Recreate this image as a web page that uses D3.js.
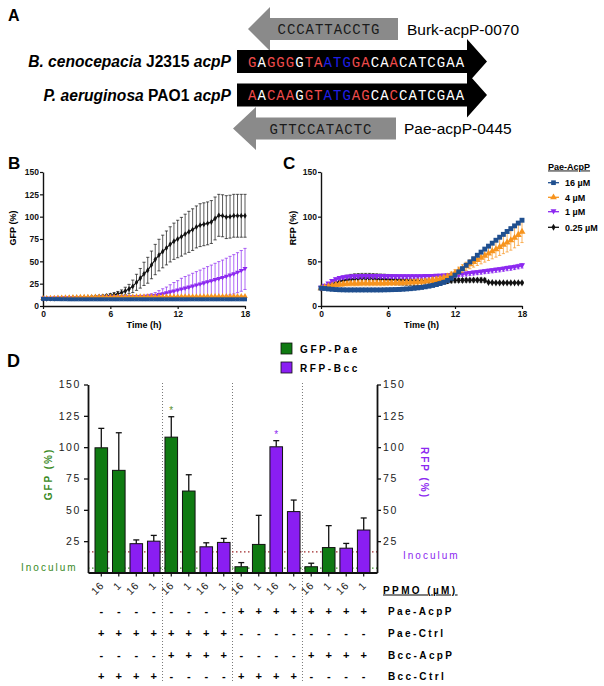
<!DOCTYPE html>
<html><head><meta charset="utf-8">
<script src="https://cdn.jsdelivr.net/npm/d3@7"></script>
<style>
body{margin:0;background:#fff}
svg{display:block;font-family:"Liberation Sans",Arial,sans-serif}
</style>
</head><body>
<svg id="c" width="604" height="686"></svg>
<script>
// ---------------- DATA ----------------
// Panel A
const seqBcc = "GAGGGGTAATGGACAACATCGAA";
const seqPae = "AACAAGGTATGAGCACCATCGAA";
const ppmoBurk = "CCCATTACCTG";
const ppmoPae = "GTTCCATACTC";
const ppmoBurkName = "Burk-acpP-0070";
const ppmoPaeName = "Pae-acpP-0445";

// Panels B & C : time course, 20-min readings 0..18 h
const sampleMinutes = 20;
const nSamples = 55;
const concLabels = ["16 µM", "4 µM", "1 µM", "0.25 µM"];

const bBlue = [8.0,7.9,7.8, 7.7,7.7,7.6, 7.6,7.5,7.5, 7.5,7.5,7.5, 7.5,7.5,7.5, 7.5,7.5,7.5, 7.5,7.5,7.5, 7.5,7.5,7.5,
  7.5,7.5,7.5, 7.5,7.5,7.5, 7.5,7.5,7.5, 7.5,7.5,7.5, 7.5,7.5,7.5, 7.5,7.5,7.5, 7.5,7.5,7.5, 7.5,7.5,7.5, 7.5,7.5,7.5, 7.5,7.5,7.5, 7.5];
const bBlueErr = [0.3,0.3,0.3, 0.3,0.3,0.3, 0.3,0.3,0.3, 0.3,0.3,0.3, 0.3,0.3,0.3, 0.3,0.3,0.3, 0.3,0.3,0.3, 0.3,0.3,0.3,
  0.3,0.3,0.3, 0.3,0.3,0.3, 0.3,0.3,0.3, 0.3,0.3,0.3, 0.3,0.3,0.3, 0.3,0.3,0.3, 0.3,0.3,0.3, 0.3,0.3,0.3, 0.3,0.3,0.3, 0.3,0.3,0.3, 0.3];
const bOrange = [8.6,8.7,8.9, 9.0,9.1,9.3, 9.4,9.5,9.7, 9.8,9.9,10.0, 10.1,10.1,10.2, 10.2,10.2,10.3, 10.3,10.3,10.3, 10.4,10.4,10.4,
  10.4,10.5,10.5, 10.5,10.5,10.5, 10.5,10.6,10.6, 10.6,10.6,10.6, 10.6,10.7,10.7, 10.7,10.7,10.7, 10.7,10.7,10.8, 10.8,10.8,10.8, 10.8,10.8,10.8, 10.9,10.9,10.9, 10.9];
const bOrangeErr = [0.4,0.4,0.4, 0.4,0.4,0.4, 0.4,0.4,0.4, 0.4,0.4,0.4, 0.4,0.4,0.4, 0.4,0.4,0.4, 0.4,0.4,0.4, 0.4,0.4,0.4,
  0.4,0.4,0.4, 0.4,0.4,0.4, 0.4,0.4,0.4, 0.4,0.4,0.4, 0.4,0.4,0.4, 0.4,0.4,0.4, 0.4,0.4,0.4, 0.4,0.4,0.4, 0.4,0.4,0.4, 0.4,0.4,0.4, 0.4];
const bPurple = [8.0,8.1,8.2, 8.4,8.4,8.5, 8.6,8.6,8.7, 8.8,8.8,8.9, 9.0,9.0,9.1, 9.2,9.2,9.3, 9.4,9.4,9.5, 9.6,9.6,9.7,
  9.8,9.9,10.1, 10.2,10.5,10.8, 11.2,12.2,13.2, 14.2,15.3,16.3, 17.4,18.5,19.5, 20.6,21.8,23.0, 24.2,25.4,26.6,
  27.8,29.0,30.2, 31.4,32.7,34.1, 35.5,37.3,39.3, 41.5];
const bPurpleErr = [0.5,0.5,0.5, 0.5,0.5,0.5, 0.5,0.5,0.6, 0.6,0.6,0.7, 0.7,0.7,0.8, 0.8,0.9,0.9, 1.0,1.0,1.1, 1.1,1.2,1.3,
  1.4,1.5,1.8, 2.0,2.5,3.0, 3.8,5.0,6.1, 7.0,8.5,10.0, 11.0,12.5,13.5, 14.0,14.8,15.5, 16.0,16.8,17.5,
  18.0,18.8,19.5, 20.0,20.8,21.5, 22.0,22.4,22.8, 23.0];
const bBlack = [8.0,8.1,8.3, 8.4,8.5,8.7, 8.8,8.9,9.1, 9.2,9.3,9.5, 9.6,9.9,10.1, 10.4,10.8,11.3, 11.8,12.6,13.6, 14.8,16.8,19.0,
  22.0,26.5,31.0, 36.0,40.0,46.0, 52.0,57.0,61.0, 65.0,69.0,72.5, 75.0,77.5,80.5, 83.0,85.5,88.5, 90.5,91.5,92.5,
  94.0,98.0,101.5, 101.0,99.5,100.0, 101.0,101.0,101.0, 101.0];
const bBlackErr = [0.5,0.5,0.5, 0.6,0.6,0.7, 0.7,0.8,0.8, 0.9,0.9,1.0, 1.0,1.1,1.3, 1.4,1.5,1.7, 2.0,2.3,2.7, 3.2,4.2,5.2,
  7.0,9.0,11.0, 13.0,14.5,15.5, 17.0,17.7,18.3, 19.0,19.7,20.3, 21.0,21.7,22.3, 23.0,23.3,23.5, 24.0,24.0,24.0,
  24.0,24.0,23.5, 23.5,24.0,24.0, 24.0,24.0,24.0, 24.0];

const cBlue = [20.0,19.6,19.1, 18.7,18.4,18.2, 18.1,18.0,18.0, 18.0,18.0,18.0, 18.0,18.0,18.0, 18.0,18.0,18.1, 18.2,18.3,18.4, 18.5,18.8,19.1,
  19.4,19.8,20.3, 20.8,21.5,22.2, 23.0,24.0,25.1, 26.5,28.6,31.2, 34.5,38.2,41.8, 45.6,49.3,52.9, 56.8,60.3,63.7,
  67.0,70.3,73.6, 77.0,80.2,83.4, 86.6,89.7,92.8, 96.0];
const cBlueErr = [0.6,0.6,0.6, 0.6,0.6,0.6, 0.6,0.6,0.6, 0.6,0.6,0.6, 0.6,0.6,0.6, 0.6,0.6,0.6, 0.6,0.6,0.6, 0.6,0.6,0.6,
  0.6,0.6,0.6, 0.6,0.6,0.6, 0.7,0.7,0.7, 0.8,0.8,0.8, 0.9,0.9,1.0, 1.0,1.0,1.1, 1.1,1.2,1.2, 1.2,1.3,1.3, 1.3,1.4,1.4, 1.4,1.5,1.5, 1.5];
const cOrange = [20.0,21.1,22.2, 23.0,23.7,24.2, 24.6,24.9,25.1, 25.2,25.3,25.4, 25.4,25.4,25.5, 25.5,25.5,25.6, 25.7,25.7,25.9, 26.0,26.1,26.3,
  26.6,26.9,27.1, 27.2,27.7,28.3, 29.0,29.7,30.4, 31.5,33.0,34.9, 37.2,39.6,42.0, 44.4,46.8,49.2, 51.6,54.0,56.4,
  58.8,61.2,63.6, 66.0,68.5,71.0, 73.5,76.5,79.6, 83.0];
const cOrangeErr = [0.5,0.9,1.2, 1.5,1.9,2.2, 2.5,2.5,2.6, 2.7,2.7,2.8, 2.8,2.8,2.8, 2.8,2.8,2.8, 2.8,2.8,2.8, 2.8,2.8,2.8,
  2.8,2.8,2.8, 2.8,2.8,2.8, 2.8,2.8,2.8, 3.0,3.0,3.1, 3.5,3.9,4.3, 4.6,5.1,5.7, 6.2,6.8,7.3,
  7.8,8.4,8.9, 9.4,9.9,10.5, 11.0,11.4,11.8, 12.0];
const cPurple = [20.0,22.2,24.8, 27.5,29.5,30.9, 31.8,32.3,32.6, 32.8,32.9,33.0, 33.0,33.0,33.0, 33.0,33.0,32.9, 32.9,32.8,32.8, 32.8,32.8,32.8,
  32.8,32.8,32.9, 32.9,33.0,33.1, 33.2,33.3,33.5, 33.6,33.9,34.2, 34.4,34.9,35.4, 35.8,36.4,36.9, 37.4,37.9,38.5,
  39.0,39.5,40.1, 40.6,41.3,42.0, 42.5,43.3,44.1, 45.0];
const cPurpleErr = [0.5,1.0,1.5, 2.0,2.0,2.0, 2.0,2.0,2.0, 2.0,2.0,2.0, 2.0,2.0,2.0, 2.0,2.0,2.0, 2.0,2.0,2.0, 2.0,2.0,2.0,
  2.0,2.0,2.0, 2.0,2.0,2.0, 2.0,2.0,2.0, 2.0,2.0,2.0, 2.1,2.1,2.1, 2.2,2.2,2.2, 2.3,2.3,2.3, 2.3,2.4,2.4, 2.4,2.4,2.5, 2.5,2.5,2.5, 2.5];
const cBlack = [20.0,21.1,22.6, 24.3,26.0,27.5, 28.6,29.5,30.0, 30.5,30.8,31.0, 31.0,31.0,30.8, 30.6,30.3,30.1, 29.8,29.5,29.3, 29.0,28.9,28.7,
  28.6,28.5,28.4, 28.4,28.4,28.4, 28.4,28.4,28.5, 28.5,28.5,28.6, 28.7,28.7,28.8, 28.9,28.9,29.0, 29.0,29.0,28.8,
  26.5,26.2,26.0, 26.0,25.9,25.9, 25.9,26.0,26.0, 26.0];
const cBlackErr = [0.5,1.2,1.8, 2.5,3.2,3.9, 4.5,5.0,5.4, 5.5,5.5,5.5, 5.5,5.5,5.5, 5.5,5.5,5.5, 5.5,5.5,5.5, 5.5,5.5,5.5,
  5.5,5.5,5.5, 5.5,5.5,5.5, 5.0,4.8,4.5, 4.0,3.3,2.6, 2.0,2.0,2.0, 2.0,2.0,2.0, 2.0,2.3,2.2,
  1.0,1.0,1.0, 1.0,1.0,1.0, 1.0,1.0,1.0, 1.0];

const bTicksY = [0,25,50,75,100,125,150];
const cTicksY = [0,50,100,150];
const timeTicks = [0,6,12,18];

// Panel D
const dPPMO = ["16","1","16","1","16","1","16","1","16","1","16","1","16","1","16","1"];
const dReporter = ["GFP","GFP","RFP","RFP","GFP","GFP","RFP","RFP","GFP","GFP","RFP","RFP","GFP","GFP","RFP","RFP"];
const dValues = [99.5,81.5,23.0,25.0,108.0,65.0,20.5,24.0,4.6,22.4,100.3,48.6,4.6,19.9,19.4,33.9];
const dErrors = [15.5,30.0,3.0,4.6,16.3,13.0,3.2,3.2,3.3,23.2,4.9,9.2,2.8,17.5,3.8,9.6];
const dStars  = ["","","","","*","","","","","","*","","","","",""];
const rowPaeAcpP = ["-","-","-","-","-","-","-","-","+","+","+","+","+","+","+","+"];
const rowPaeCtrl = ["+","+","+","+","+","+","+","+","-","-","-","-","-","-","-","-"];
const rowBccAcpP = ["-","-","-","-","+","+","+","+","-","-","-","-","+","+","+","+"];
const rowBccCtrl = ["+","+","+","+","-","-","-","-","+","+","+","+","-","-","-","-"];
const rowNames = ["Pae-AcpP","Pae-Ctrl","Bcc-AcpP","Bcc-Ctrl"];
const dTicks = [25,50,75,100,125,150];
const inoculumGFP = 3.5;
const inoculumRFP = 16.5;

// ---------------- DRAWING ----------------
const svg = d3.select("#c");
const times = d3.range(nSamples).map(i => i * sampleMinutes / 60);

const COL = {blue:"#1f4f8f", orange:"#f7941e", purple:"#8c28f0", black:"#111111",
  green:"#0f7a12", barPurple:"#8a1ef2", gText:"#3a8a1f", red:"#ee4b4b", startBlue:"#1f1fe6"};

function panelLabel(t, x, y, fs){
  svg.append("text").attr("x",x).attr("y",y).attr("font-size",fs).attr("font-weight","bold").text(t);
}

// ---- Panel A ----
panelLabel("A", 8, 21, 16);
function leftArrow(tip, bl, br, cy, bh, hh, fill){
  svg.append("path").attr("fill",fill)
    .attr("d",`M${tip},${cy}L${bl},${cy-hh/2}L${bl},${cy-bh/2}L${br},${cy-bh/2}L${br},${cy+bh/2}L${bl},${cy+bh/2}L${bl},${cy+hh/2}Z`);
}
function rightArrow(bl, br, tip, cy, bh, hh, fill){
  svg.append("path").attr("fill",fill)
    .attr("d",`M${tip},${cy}L${br},${cy-hh/2}L${br},${cy-bh/2}L${bl},${cy-bh/2}L${bl},${cy+bh/2}L${br},${cy+bh/2}L${br},${cy+hh/2}Z`);
}
const gray = "#8a8a8a";
leftArrow(248, 270, 398, 29, 22, 44, gray);
rightArrow(237, 467, 487, 61.5, 23, 45, "#000");
rightArrow(237, 467, 487, 95, 23, 45, "#000");
leftArrow(233, 256, 396, 128.5, 22, 43, gray);

const mono = "'Liberation Mono','DejaVu Sans Mono',monospace";
function seqText(seq, other, x, y){
  const t = svg.append("text").attr("x",x).attr("y",y).attr("font-family",mono)
    .attr("font-size",14).style("letter-spacing","1.03px");
  seq.split("").forEach((ch,i) => {
    let c = "#fff";
    if (i >= 8 && i <= 10) c = COL.startBlue;
    else if (ch !== other[i]) c = COL.red;
    t.append("tspan").attr("fill",c).text(ch);
  });
}
seqText(seqBcc, seqPae, 248, 66.5);
seqText(seqPae, seqBcc, 248, 100);
svg.append("text").attr("x",329).attr("y",34).attr("text-anchor","middle").attr("font-family",mono)
  .attr("font-size",14).style("letter-spacing","0.95px").attr("fill","#1a1a1a").text(ppmoBurk);
svg.append("text").attr("x",321).attr("y",133.5).attr("text-anchor","middle").attr("font-family",mono)
  .attr("font-size",14).style("letter-spacing","0.95px").attr("fill","#1a1a1a").text(ppmoPae);
svg.append("text").attr("x",407).attr("y",34.5).attr("font-size",15.5).text(ppmoBurkName);
svg.append("text").attr("x",404).attr("y",134).attr("font-size",15.5).text(ppmoPaeName);

function orgLabel(parts, y){
  const t = svg.append("text").attr("x",231).attr("y",y).attr("text-anchor","end")
    .attr("font-size",15.6).attr("font-weight","bold");
  parts.forEach(p => t.append("tspan").attr("font-style", p[1] ? "italic" : "normal").text(p[0]));
}
orgLabel([["B. cenocepacia",1],[" J2315 ",0],["acpP",1]], 67);
orgLabel([["P. aeruginosa",1],[" PAO1 ",0],["acpP",1]], 100.5);

// ---- Panels B & C ----
const yTime = d3.scaleLinear().domain([0,150]).range([306,172]);
const symDown = {draw(ctx,size){ const h = Math.sqrt(size)*0.62; ctx.moveTo(-h,-h*0.8); ctx.lineTo(h,-h*0.8); ctx.lineTo(0,h*0.95); ctx.closePath(); }};

function timePanel(x0, x1, ticksY, series, yLab, yLabX, mk){
  const x = d3.scaleLinear().domain([0,18]).range([x0,x1]);
  const g = svg.append("g");
  const ax = g.append("g").attr("transform",`translate(0,306)`)
    .call(d3.axisBottom(x).tickValues(timeTicks).tickSize(3).tickSizeOuter(0).tickPadding(2));
  const ay = g.append("g").attr("transform",`translate(${x0},0)`)
    .call(d3.axisLeft(yTime).tickValues(ticksY).tickSize(3).tickSizeOuter(0).tickPadding(1));
  [ax,ay].forEach(a => {
    a.select(".domain").attr("stroke","#111").attr("stroke-width",1.4);
    a.selectAll(".tick line").attr("stroke","#111").attr("stroke-width",1.2);
    a.selectAll("text").attr("font-size",8.5).attr("font-weight","bold").attr("fill","#111")
      .attr("font-family","'Liberation Sans',Arial,sans-serif");
  });
  series.forEach(s => {
    const sg = g.append("g");
    const pts = times.map((t,i) => ({t, v:s.v[i], e:s.e[i]}));
    sg.selectAll("line.eb").data(pts).join("line")
      .attr("x1",d=>x(d.t)).attr("x2",d=>x(d.t))
      .attr("y1",d=>yTime(d.v-d.e)).attr("y2",d=>yTime(d.v+d.e))
      .attr("stroke",s.c).attr("stroke-width",0.7);
    ["+","-"].forEach(sign => {
      sg.selectAll(null).data(pts.filter(d=>d.e>0.8)).join("line")
        .attr("x1",d=>x(d.t)-1.6).attr("x2",d=>x(d.t)+1.6)
        .attr("y1",d=>yTime(sign==="+"?d.v+d.e:d.v-d.e)).attr("y2",d=>yTime(sign==="+"?d.v+d.e:d.v-d.e))
        .attr("stroke",s.c).attr("stroke-width",0.7);
    });
    sg.append("path").datum(pts).attr("fill","none").attr("stroke",s.c).attr("stroke-width",1.2)
      .attr("d", d3.line().x(d=>x(d.t)).y(d=>yTime(d.v)));
    sg.selectAll("path.m").data(pts).join("path").attr("class","m")
      .attr("transform",d=>`translate(${x(d.t)},${yTime(d.v)})`)
      .attr("d", d3.symbol().type(s.sym).size(s.sz*mk)).attr("fill",s.c);
  });
  svg.append("text").attr("x",(x0+x1)/2).attr("y",328).attr("text-anchor","middle")
    .attr("font-size",9).attr("font-weight","bold").text("Time (h)");
  svg.append("text").attr("transform",`translate(${yLabX},228) rotate(-90)`).attr("text-anchor","middle")
    .attr("font-size",9).attr("font-weight","bold").text(yLab);
}
const mkSeries = (v0,e0,v1,e1,v2,e2,v3,e3) => [
  {v:v3, e:e3, c:COL.black, sym:d3.symbolDiamond, sz:10},
  {v:v2, e:e2, c:COL.purple, sym:symDown, sz:16},
  {v:v1, e:e1, c:COL.orange, sym:d3.symbolTriangle, sz:14},
  {v:v0, e:e0, c:COL.blue, sym:d3.symbolSquare, sz:16}
];
panelLabel("B", 8, 169, 17);
timePanel(43, 245, bTicksY, mkSeries(bBlue,bBlueErr,bOrange,bOrangeErr,bPurple,bPurpleErr,bBlack,bBlackErr), "GFP (%)", 15.5, 1);
panelLabel("C", 283, 169, 17);
timePanel(321, 522, cTicksY, mkSeries(cBlue,cBlueErr,cOrange,cOrangeErr,cPurple,cPurpleErr,cBlack,cBlackErr), "RFP (%)", 296, 1.5);

// legend C
svg.append("text").attr("x",548).attr("y",169.5).attr("font-size",9).attr("font-weight","bold")
  .style("text-decoration","underline").text("Pae-AcpP");
const legC = [[COL.blue,d3.symbolSquare,22],[COL.orange,d3.symbolTriangle,20],[COL.purple,symDown,22],[COL.black,d3.symbolDiamond,14]];
const legY = [182.7,197.3,211.7,227.3];
concLabels.forEach((lab,i) => {
  const y = legY[i];
  svg.append("line").attr("x1",548).attr("x2",559).attr("y1",y).attr("y2",y).attr("stroke",legC[i][0]).attr("stroke-width",1.3);
  svg.append("path").attr("transform",`translate(553.5,${y})`).attr("d",d3.symbol().type(legC[i][1]).size(legC[i][2])).attr("fill",legC[i][0]);
  svg.append("text").attr("x",565).attr("y",y+3.2).attr("font-size",9).attr("font-weight","bold").text(lab);
});

// ---- Panel D ----
panelLabel("D", 7, 367, 18);
const yD = d3.scaleLinear().domain([0,150]).range([572.5,384.5]);
const xD = d3.scaleBand().domain(d3.range(16)).range([88,377]).paddingInner(0.28).paddingOuter(0.4);
const cx = i => xD(i) + xD.bandwidth()/2;

// group separators
[3,7,11].forEach(i => {
  const sx = (cx(i)+cx(i+1))/2;
  svg.append("line").attr("x1",sx).attr("x2",sx).attr("y1",383).attr("y2",682)
    .attr("stroke","#555").attr("stroke-width",0.8).attr("stroke-dasharray","1,2");
});
// inoculum lines
svg.append("line").attr("x1",88).attr("x2",377).attr("y1",yD(inoculumRFP)).attr("y2",yD(inoculumRFP))
  .attr("stroke","#a0282a").attr("stroke-width",1.3).attr("stroke-dasharray","1.5,2.5");
svg.append("line").attr("x1",88).attr("x2",377).attr("y1",yD(inoculumGFP)).attr("y2",yD(inoculumGFP))
  .attr("stroke","#3d9a2a").attr("stroke-width",1.3).attr("stroke-dasharray","1.5,2.5");

const bars = d3.range(16).map(i => ({i, v:dValues[i], e:dErrors[i], r:dReporter[i], s:dStars[i]}));
const gD = svg.append("g");
gD.selectAll("line.err").data(bars).join("line")
  .attr("x1",d=>cx(d.i)).attr("x2",d=>cx(d.i)).attr("y1",d=>yD(d.v)).attr("y2",d=>yD(d.v+d.e))
  .attr("stroke","#111").attr("stroke-width",1.3);
gD.selectAll("line.cap").data(bars).join("line")
  .attr("x1",d=>cx(d.i)-3).attr("x2",d=>cx(d.i)+3).attr("y1",d=>yD(d.v+d.e)).attr("y2",d=>yD(d.v+d.e))
  .attr("stroke","#111").attr("stroke-width",1.3);
gD.selectAll("rect").data(bars).join("rect")
  .attr("x",d=>xD(d.i)).attr("width",xD.bandwidth())
  .attr("y",d=>yD(d.v)).attr("height",d=>yD(0)-yD(d.v))
  .attr("fill",d=>d.r==="GFP"?COL.green:COL.barPurple).attr("stroke","#111").attr("stroke-width",1);
gD.selectAll("text.star").data(bars.filter(d=>d.s)).join("text")
  .attr("x",d=>cx(d.i)).attr("y",d=>yD(d.v+d.e)-3).attr("text-anchor","middle")
  .attr("font-size",10).attr("fill",d=>d.r==="GFP"?"#5a8f2a":COL.purple).text(d=>d.s);

function styleD(a){
  a.select(".domain").attr("stroke","#111").attr("stroke-width",1.8);
  a.selectAll(".tick line").attr("stroke","#111").attr("stroke-width",1.3);
  a.selectAll("text").attr("font-size",10.5).attr("fill","#222").style("letter-spacing","1.6px")
   .attr("font-family","'Liberation Sans',Arial,sans-serif");
}
const axL = svg.append("g").attr("transform","translate(88,0)")
  .call(d3.axisLeft(yD).tickValues(dTicks).tickSize(4).tickSizeOuter(0).tickPadding(3));
styleD(axL);
const axR = svg.append("g").attr("transform","translate(377,0)")
  .call(d3.axisRight(yD).tickValues(dTicks).tickSize(4).tickSizeOuter(0).tickPadding(2));
styleD(axR);
const axB = svg.append("g").attr("transform",`translate(0,${yD(0)})`)
  .call(d3.axisBottom(xD).tickSize(4).tickSizeOuter(0).tickFormat(""));
axB.select(".domain").attr("stroke","#111").attr("stroke-width",1.8);
axB.selectAll(".tick line").attr("stroke","#111").attr("stroke-width",1.2);

// rotated PPMO labels
svg.selectAll("text.ppmo").data(dPPMO).join("text")
  .attr("transform",(d,i)=>`translate(${cx(i)+3.5},586) rotate(-45)`)
  .attr("text-anchor","end").attr("font-size",10.5).attr("fill","#222").style("letter-spacing","0.8px").text(d=>d);
svg.append("text").attr("x",383).attr("y",593.5).attr("font-size",10).attr("font-weight","bold")
  .style("letter-spacing","2.4px").style("text-decoration","underline").text("PPMO (µM)");

// table
const rows = [rowPaeAcpP,rowPaeCtrl,rowBccAcpP,rowBccCtrl];
const rowY = [611,633,654.5,676];
rows.forEach((r,k) => {
  svg.selectAll(null).data(r).join("text")
    .attr("x",(d,i)=>cx(i)).attr("y",rowY[k]+4).attr("text-anchor","middle")
    .attr("font-size",11).attr("font-weight","bold").text(d=>d);
  svg.append("text").attr("x",388).attr("y",rowY[k]+4).attr("font-size",10).attr("font-weight","bold")
    .style("letter-spacing","2.4px").text(rowNames[k]);
});

// axis titles & inoculum labels
svg.append("text").attr("transform","translate(52,474) rotate(-90)").attr("text-anchor","middle")
  .attr("font-size",10).attr("font-weight","bold").attr("fill",COL.gText).style("letter-spacing","2px").text("GFP (%)");
svg.append("text").attr("transform","translate(421,473) rotate(90)").attr("text-anchor","middle")
  .attr("font-size",10).attr("font-weight","bold").attr("fill",COL.purple).style("letter-spacing","2px").text("RFP (%)");
svg.append("text").attr("x",21).attr("y",570.5).attr("font-size",10).attr("fill",COL.gText)
  .style("letter-spacing","2px").text("Inoculum");
svg.append("text").attr("x",403).attr("y",558.5).attr("font-size",10).attr("fill",COL.purple)
  .style("letter-spacing","2px").text("Inoculum");

// legend D
[["GFP-Pae",COL.green,343],["RFP-Bcc",COL.barPurple,362]].forEach(([t,c,y]) => {
  svg.append("rect").attr("x",281).attr("y",y).attr("width",11).attr("height",11).attr("fill",c).attr("stroke","#111").attr("stroke-width",0.8);
  svg.append("text").attr("x",300).attr("y",y+9.5).attr("font-size",10).attr("font-weight","bold")
    .style("letter-spacing","2.6px").text(t);
});
</script>
</body></html>
